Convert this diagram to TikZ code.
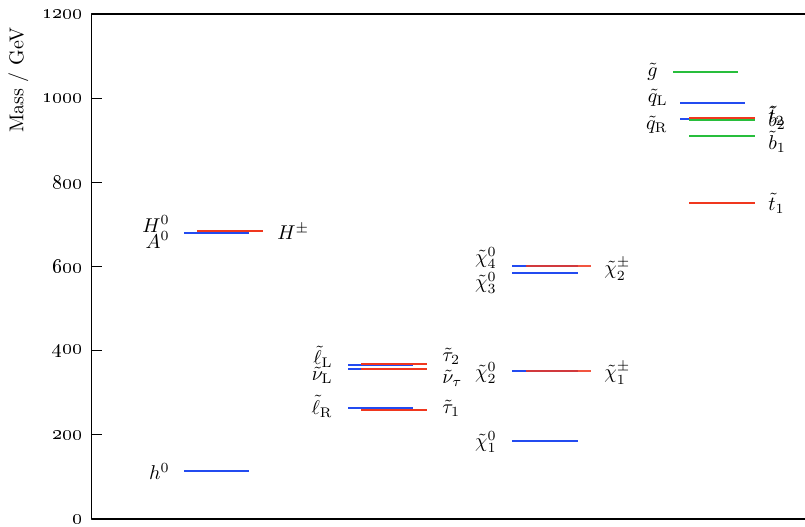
\documentclass[tikz,border=0pt]{standalone}
\usepackage{tikz}

\definecolor{lvlblue}{RGB}{35,75,240}
\definecolor{lvlred}{RGB}{240,55,30}
\definecolor{lvlgreen}{RGB}{40,190,60}

\begin{document}
\begin{tikzpicture}[line join=round,x=0.5pt,y=0.2104pt,
  bluelvl/.style={color=lvlblue,line width=1pt},
  redlvl/.style={color=lvlred,line width=1pt},
  greenlvl/.style={color=lvlgreen,line width=1pt},
  lbl/.style={inner sep=0pt}]
\useasboundingbox (0,-16.6) rectangle (805,1233.4);
% axes
\draw[line width=0.6pt] (805,1200) -- (91.5,1200) -- (91.5,0) -- (805,0);
\foreach \y in {0,200,...,1200}
\draw[line width=0.6pt] (91.5,\y) -- (101.5,\y) node[lbl,anchor=east] at (83,\y) {\oldstylenums{\y}};
\node[rotate=90] (ylab) at (18.5,1043) {Mass / GeV};
% Higgs
\draw[bluelvl] (184,113) -- (249,113);
\draw[bluelvl] (184,680) -- (249,680);
\draw[redlvl] (197,685) -- (263,685);
\node[lbl,anchor=east] (h0) at (170,113) {$h^0$};
\node[lbl,anchor=east] (H0) at (170,701) {$H^0$};
\node[lbl,anchor=east] (A0) at (170,663) {$A^0$};
\node[lbl,anchor=west] (Hpm) at (277,682) {$H^\pm$};
% sleptons
\draw[bluelvl] (348,367) -- (413,367);
\draw[bluelvl] (348,357) -- (413,357);
\draw[bluelvl] (348,264) -- (413,264);
\draw[redlvl] (361,368) -- (427,368);
\draw[redlvl] (361,356) -- (427,356);
\draw[redlvl] (361,258) -- (427,258);
\node[lbl,anchor=east] (lL) at (333,385) {$\tilde\ell_\mathrm{L}$};
\node[lbl,anchor=east] (nuL) at (333,342) {$\tilde\nu_\mathrm{L}$};
\node[lbl,anchor=east] (lR) at (333,268) {$\tilde\ell_\mathrm{R}$};
\node[lbl,anchor=west] (tau2) at (442,386) {$\tilde\tau_2$};
\node[lbl,anchor=west] (nutau) at (442,335) {$\tilde\nu_\tau$};
\node[lbl,anchor=west] (tau1) at (442,264) {$\tilde\tau_1$};
% neutralinos and charginos
\draw[bluelvl] (512,600.5) -- (578,600.5);
\draw[bluelvl] (512,585) -- (578,585);
\draw[bluelvl] (512,352) -- (578,352);
\draw[bluelvl] (512,186) -- (578,186);
\draw[redlvl,opacity=0.85] (526,600.5) -- (591,600.5);
\draw[redlvl,opacity=0.85] (526,352) -- (591,352);
\node[lbl,anchor=east] (chi4) at (497,620) {$\tilde\chi^0_4$};
\node[lbl,anchor=east] (chi3) at (497,561) {$\tilde\chi^0_3$};
\node[lbl,anchor=east] (chi2) at (497,347) {$\tilde\chi^0_2$};
\node[lbl,anchor=east] (chi1) at (497,183) {$\tilde\chi^0_1$};
\node[lbl,anchor=west] (chi2pm) at (604,594) {$\tilde\chi^\pm_2$};
\node[lbl,anchor=west] (chi1pm) at (604,347) {$\tilde\chi^\pm_1$};
% squarks and gluino
\draw[greenlvl] (673,1063) -- (738,1063);
\draw[bluelvl] (680,989) -- (745,989);
\draw[bluelvl] (680,950) -- (745,950);
\draw[redlvl] (689,953.5) -- (755,953.5);
\draw[greenlvl] (689,948) -- (755,948);
\draw[greenlvl] (689,910) -- (755,910);
\draw[redlvl] (689,750) -- (755,750);
\node[lbl,anchor=east] (gl) at (658,1062) {$\tilde g$};
\node[lbl,anchor=east] (qL) at (668,1000) {$\tilde q_\mathrm{L}$};
\node[lbl,anchor=east] (qR) at (668,936) {$\tilde q_\mathrm{R}$};
\node[lbl,anchor=west] (st2) at (768,958) {$\tilde t_2$};
\node[lbl,anchor=west] (sb2) at (768,952) {$\tilde b_2$};
\node[lbl,anchor=west] (sb1) at (768,897) {$\tilde b_1$};
\node[lbl,anchor=west] (st1) at (768,751) {$\tilde t_1$};
\end{tikzpicture}
\end{document}
